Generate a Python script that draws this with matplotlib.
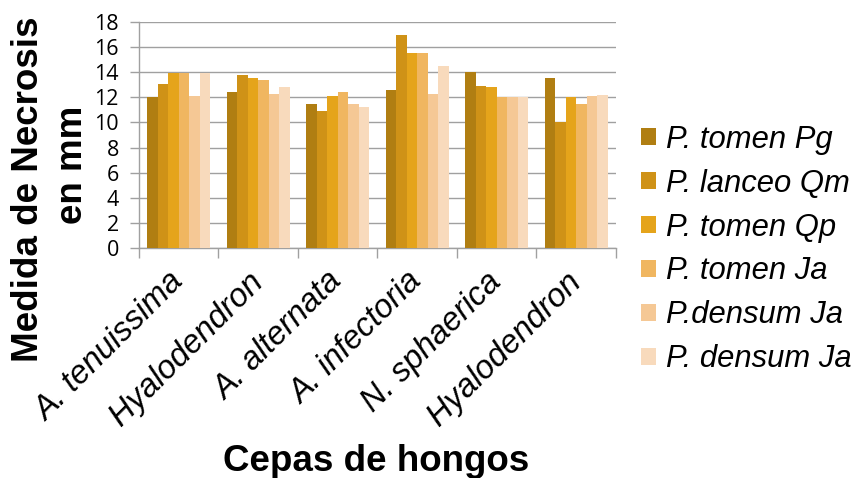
import numpy as np
import matplotlib
matplotlib.use("Agg")
import matplotlib.pyplot as plt

# Data
cepas = ["A. tenuissima", "Hyalodendron", "A. alternata",
         "A. infectoria", "N. sphaerica", "Hyalodendron"]
series_names = ["P. tomen Pg", "P. lanceo Qm", "P. tomen Qp",
                "P. tomen Ja", "P.densum Ja", "P. densum Ja"]
tomen_pg = [12.0, 12.4, 11.5, 12.6, 14.0, 13.5]
lanceo_qm = [13.1, 13.8, 10.9, 17.0, 12.9, 10.0]
tomen_qp = [13.9, 13.5, 12.1, 15.5, 12.8, 12.0]
tomen_ja = [13.9, 13.4, 12.4, 15.5, 12.0, 11.5]
densum_ja = [12.1, 12.3, 11.5, 12.3, 12.0, 12.1]
densum_ja2 = [13.9, 12.8, 11.2, 14.5, 12.0, 12.2]
y_ticks = [0, 2, 4, 6, 8, 10, 12, 14, 16, 18]

series = [tomen_pg, lanceo_qm, tomen_qp, tomen_ja, densum_ja, densum_ja2]
colors = ["#B07E12", "#CF9217", "#E5A41B", "#F0B660", "#F5C895", "#F8DABC"]
grey = "#A0A0A0"

fig = plt.figure(figsize=(8.61, 4.78), dpi=100)
ax = fig.add_axes([0.1614, 0.4812, 0.5540, 0.4728])

x = np.arange(len(cepas))
width = 0.132
offsets = (np.arange(len(series)) - (len(series) - 1) / 2) * width
bars = []
for vals, off, col, name in zip(series, offsets, colors, series_names):
    b = ax.bar(x + off, vals, width, color=col, label=name, zorder=3)
    bars.append(b)

ax.set_xlim(-0.5, len(cepas) - 0.5)
ax.set_ylim(0, 18)
ax.set_yticks(y_ticks)
ax.yaxis.grid(True, color=grey, linewidth=1.0, zorder=0)
ax.set_axisbelow(True)

for side in ["top", "right"]:
    ax.spines[side].set_visible(False)
ax.spines["left"].set_color(grey)
ax.spines["bottom"].set_color(grey)
ax.spines["left"].set_linewidth(1.0)
ax.spines["bottom"].set_linewidth(1.0)

# y tick labels
ax.tick_params(axis="y", length=6.5, width=1.0, color=grey, pad=8)
for lab in ax.get_yticklabels():
    lab.set_fontfamily("Open Sans")
    lab.set_fontsize(15.5)

# category labels at group centres, tick marks at group boundaries
ax.set_xticks(x)
ax.set_xticklabels(cepas, rotation=45, ha="right", va="center",
                   rotation_mode="anchor", fontsize=23.5, style="italic",
                   family="Liberation Sans")
ax.tick_params(axis="x", which="major", length=0, pad=21)
ax.set_xticks(np.arange(len(cepas) + 1) - 0.5, minor=True)
ax.tick_params(axis="x", which="minor", length=7, width=1.0, color=grey)

# axis titles
fig.text(38 / 861, 1 - 189 / 478, "Medida de Necrosis", rotation=90,
         rotation_mode="anchor", ha="center", va="baseline",
         fontsize=26.5, fontweight="bold", family="Liberation Sans")
fig.text(82 / 861, 1 - 165 / 478, "en mm", rotation=90,
         rotation_mode="anchor", ha="center", va="baseline",
         fontsize=26.5, fontweight="bold", family="Liberation Sans")
fig.text(376.5 / 861, 1 - 471 / 478, "Cepas de hongos", ha="center",
         va="baseline", fontsize=26.5, fontweight="bold",
         family="Liberation Sans")

leg = fig.legend(handles=bars, labels=series_names, loc="center left",
                 bbox_to_anchor=(641 / 861, 1 - 249.5 / 478), frameon=False,
                 borderpad=0, borderaxespad=0, handlelength=0.5,
                 handleheight=0.5, handletextpad=0.3, labelspacing=0.45,
                 prop={"family": "Liberation Sans", "style": "italic",
                       "size": 22.3})

fig.savefig("out.png", dpi=100)
